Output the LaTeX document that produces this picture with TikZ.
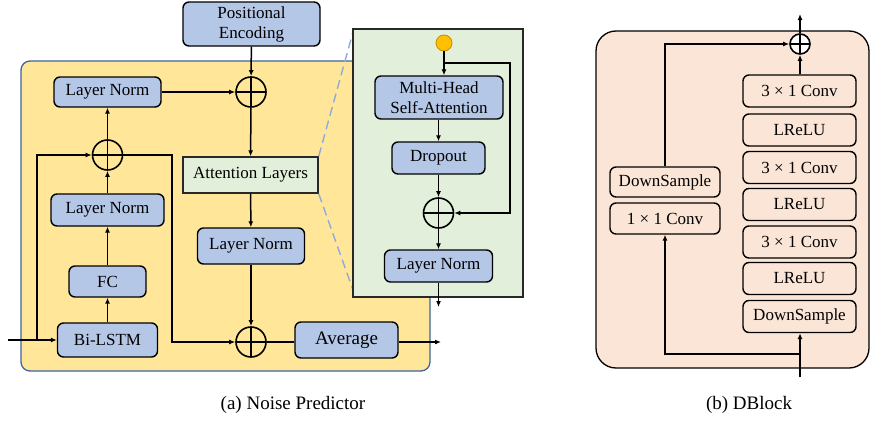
\documentclass[tikz,border=0pt]{standalone}
\usepackage{fontspec}
\setmainfont{Liberation Serif}
\usetikzlibrary{arrows.meta}
\definecolor{blk}{RGB}{180,199,231}
\definecolor{ylw}{RGB}{255,230,153}
\definecolor{ylwline}{RGB}{60,100,160}
\definecolor{grn}{RGB}{226,239,218}
\definecolor{grnline}{RGB}{40,40,40}
\definecolor{peach}{RGB}{251,229,214}
\definecolor{dashblue}{RGB}{143,170,220}
\definecolor{orng}{RGB}{255,192,0}
\definecolor{orngline}{RGB}{200,140,0}
\tikzset{
  every node/.style={font=\fontsize{17}{20}\selectfont},
  bluebox/.style={draw=black, line width=1.4pt, fill=blk, rounded corners=6pt,
    inner sep=0pt, align=center},
  greenbox/.style={draw=grnline, line width=1.4pt, fill=grn, inner sep=0pt},
  dbox/.style={draw=black, line width=1.4pt, fill=peach, rounded corners=6pt,
    inner sep=0pt, minimum width=113pt, minimum height=32pt},
  plus/.style={circle, draw=black, line width=1.6pt, inner sep=0pt,
    minimum size=#1,
    path picture={\draw[line width=1.6pt]
      (path picture bounding box.north) -- (path picture bounding box.south)
      (path picture bounding box.west) -- (path picture bounding box.east);}},
  plus/.default=30pt,
  conn/.style={line width=1.5pt, -{Latex[length=6pt,width=5pt]}},
  wire/.style={line width=1.5pt},
}
\begin{document}
\begin{tikzpicture}[x=1pt,y=-1pt]
\useasboundingbox (0,0) rectangle (870,423);

% ---------- Noise predictor ----------
\fill[ylw, draw=ylwline, line width=1.3pt, rounded corners=9pt] (21,61) rectangle (430,371);

\node[bluebox, minimum width=137pt, minimum height=44pt] (pe) at (251.5,24) {Positional\\Encoding};
\node[bluebox, minimum width=107pt, minimum height=30pt] (ln1) at (107.5,92) {Layer Norm};
\node[plus] (p1) at (251,92) {};
\node[plus] (p2) at (107.5,155) {};
\node[greenbox, minimum width=135pt, minimum height=36pt] (att) at (250.5,175) {Attention Layers};
\node[bluebox, minimum width=113pt, minimum height=32pt] (ln2) at (107.5,210) {Layer Norm};
\node[bluebox, minimum width=77pt, minimum height=31pt] (fc) at (107.5,281.5) {FC};
\node[bluebox, minimum width=100pt, minimum height=34pt] (lstm) at (107.5,340) {Bi-LSTM};
\node[bluebox, minimum width=107pt, minimum height=36pt] (ln3) at (251,246) {Layer Norm};
\node[plus] (p3) at (251,342) {};
\node[bluebox, minimum width=103pt, minimum height=36pt, font=\fontsize{19}{21}\selectfont] (avg) at (346.5,340) {Average};

\coordinate (in) at (8,340);
\coordinate (tap) at (37,340);
\coordinate (skip) at (172,155);
\coordinate (out) at (441,342);

\draw[conn] (pe) -- (p1);
\draw[conn] (ln1) -- (p1);
\draw[conn] (p1) -- (att);
\draw[conn] (att) -- (ln3);
\draw[conn] (ln3) -- (p3);
\draw[wire] (p3) -- (p3 -| avg.west);
\draw[conn] (avg.east |- out) -- (out);
\draw[conn] (lstm) -- (fc);
\draw[conn] (fc) -- (ln2);
\draw[conn] (ln2) -- (p2);
\draw[conn] (p2) -- (ln1);
\draw[conn] (in) -- (lstm);
\draw[conn] (tap) |- (p2);
\draw[conn] (p2.east) -- (skip) |- (p3);

% zoom lines towards the attention detail
\draw[dashblue, line width=1.4pt, dash pattern=on 9pt off 5pt] (att.north east) -- (353,32);
\draw[dashblue, line width=1.4pt, dash pattern=on 9pt off 5pt] (att.south east) -- (353,290);

% ---------- Attention layer detail ----------
\fill[grn, draw=grnline, line width=1.3pt] (353,29) rectangle (523,297);
\node[circle, fill=orng, draw=orngline, line width=0.8pt, minimum size=16pt, inner sep=0pt] (oc) at (444,43) {};
\node[bluebox, minimum width=128pt, minimum height=43pt] (mhsa) at (439,97.5) {Multi-Head\\Self-Attention};
\node[bluebox, minimum width=93pt, minimum height=32pt] (drop) at (438.5,158) {Dropout};
\node[plus] (p4) at (438.5,213) {};
\node[bluebox, minimum width=108pt, minimum height=32pt] (ln4) at (438.5,266) {Layer Norm};
\coordinate (res) at (444,63);
\coordinate (resr) at (510,63);
\coordinate (attout) at (438.5,307);

\draw[conn] (oc.south) -- (oc.south |- mhsa.north);
\draw[conn] (res) -- (resr) |- (p4.east);
\draw[conn] (mhsa.south -| drop) -- (drop);
\draw[conn] (drop) -- (p4);
\draw[conn] (p4) -- (ln4);
\draw[conn] (ln4) -- (attout);

\node (capa) at (293,405) [font=\fontsize{19}{21}\selectfont] {(a) Noise Predictor};

% ---------- DBlock ----------
\fill[peach, draw=black, line width=1.3pt, rounded corners=20pt] (596,31) rectangle (869,368);
\node[plus=20pt, fill=white] (pc) at (800,44) {};
\node[dbox] (c1) at (799.5,91) {3 × 1 Conv};
\node[dbox] (r1) at (799.5,130) {LReLU};
\node[dbox] (c2) at (799.5,167.5) {3 × 1 Conv};
\node[dbox] (r2) at (799.5,204.5) {LReLU};
\node[dbox] (c3) at (799.5,242) {3 × 1 Conv};
\node[dbox] (r3) at (799.5,278.5) {LReLU};
\node[dbox] (ds1) at (799.5,316.5) {DownSample};
\node[dbox, minimum width=110pt, minimum height=30pt] (ds2) at (665,182) {DownSample};
\node[dbox, minimum width=110pt, minimum height=31pt] (cv) at (665,218.5) {1 × 1 Conv};

\coordinate (din) at (800,377);
\coordinate (dsplit) at (800,354);
\coordinate (dout) at (800,14);

\draw[conn] (din) -- (ds1.south -| din);
\draw[conn] (dsplit) -| (cv.south);
\draw[conn] (ds2.north) |- (pc.west);
\draw[conn] (c1.north -| pc) -- (pc.south);
\draw[conn] (pc.north) -- (dout);

\node (capb) at (749,405) [font=\fontsize{19}{21}\selectfont] {(b) DBlock};
\end{tikzpicture}
\end{document}
